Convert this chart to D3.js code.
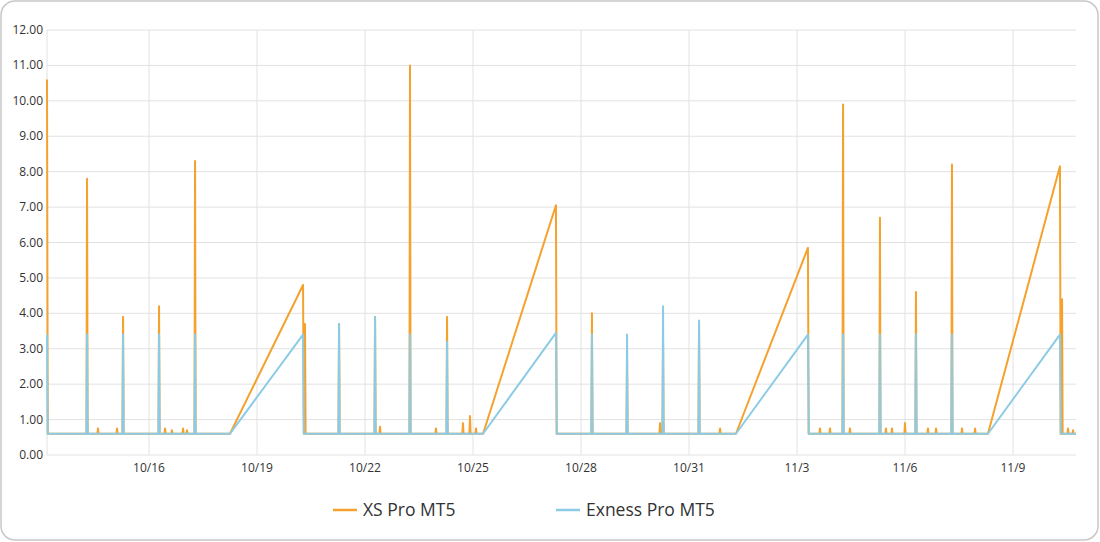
<!DOCTYPE html>
<html><head><meta charset="utf-8">
<script src="https://cdn.jsdelivr.net/npm/d3@7"></script>
<style>body{margin:0;background:#fff;font-family:"Open Sans","Noto Sans",sans-serif;}</style>
</head><body><svg id="c" width="1100" height="542"></svg>
<script>
// hours since 10/13 00:00
const spikeHour = [30.7, 38, 50.7, 54.7, 78.7, 82.7, 87.3, 94.7, 97.3, 102.7, 176, 198.7, 222.7, 226, 246, 263.3, 270.7, 281.3, 286, 290,
  367.3, 390.7, 412.7, 414.7, 438.7, 452.7, 519.3, 526, 534.7, 539.3, 559.3, 563.3, 567.3, 576, 583.3, 591.3, 596.7, 607.3, 614, 622.7,
  680.7, 684.7, 688];
const xsPeak = [7.8, 0.75, 0.75, 3.9, 4.2, 0.75, 0.7, 0.75, 0.7, 8.3, 3.7, 3.7, 3.9, 0.8, 11.0, 0.75, 3.9, 0.9, 1.1, 0.75,
  4.0, 2.7, 0.9, 3.2, 3.7, 0.75, 0.75, 0.75, 9.9, 0.75, 6.7, 0.75, 0.75, 0.9, 4.6, 0.75, 0.75, 8.2, 0.75, 0.75,
  4.4, 0.75, 0.7];
const exPeak = [3.4, 0.6, 0.6, 3.4, 3.4, 0.6, 0.6, 0.6, 0.6, 3.4, 0.6, 3.7, 3.9, 0.6, 3.4, 0.6, 3.2, 0.6, 0.6, 0.6,
  3.4, 3.4, 0.6, 4.2, 3.8, 0.6, 0.6, 0.6, 3.4, 0.6, 3.4, 0.6, 0.6, 0.6, 3.4, 0.6, 0.6, 3.4, 0.6, 0.6,
  0.6, 0.6, 0.6];
const weekendStart = [126, 294.7, 463.3, 631.3];
const weekendEnd = [174.7, 343.3, 511.3, 679.3];
const xsMonday = [4.8, 7.05, 5.85, 8.15];
const exMonday = [3.4, 3.45, 3.4, 3.4];
const firstHour = 4, lastHour = 690, baseSpread = 0.6;
const xsOpen = 10.6, exOpen = 3.4;
const tickLabels = ["10/16","10/19","10/22","10/25","10/28","10/31","11/3","11/6","11/9"];
const tickHours = [72,144,216,288,360,432,504,576,648];

function build(peaks, open, monday) {
  const pts = [[firstHour, open], [firstHour + 0.5, baseSpread]];
  spikeHour.forEach((h, i) => pts.push([h - 0.4, baseSpread], [h, peaks[i]], [h + 0.4, baseSpread]));
  weekendStart.forEach((h, i) => pts.push([h, baseSpread], [weekendEnd[i], monday[i]], [weekendEnd[i] + 0.5, baseSpread]));
  pts.push([lastHour, baseSpread]);
  return pts.sort((a, b) => a[0] - b[0]);
}
const series = [
  {name: "XS Pro MT5", color: "#f5a12e", pts: build(xsPeak, xsOpen, xsMonday)},
  {name: "Exness Pro MT5", color: "#8ccbe6", pts: build(exPeak, exOpen, exMonday)}
];

const svg = d3.select("#c");
svg.append("rect").attr("x", 1).attr("y", 1).attr("width", 1097).attr("height", 539)
   .attr("rx", 14).attr("fill", "#fff").attr("stroke", "#c8c8c8").attr("stroke-width", 1.5);
const L = 47, R = 1076, T = 30, B = 455;
const x = d3.scaleLinear().domain([firstHour, lastHour]).range([L, R]);
const y = d3.scaleLinear().domain([0, 12]).range([B, T]);
const g = svg.append("g");
g.selectAll(".hg").data(d3.range(0, 13)).join("line")
  .attr("x1", L).attr("x2", R).attr("y1", d => y(d)).attr("y2", d => y(d))
  .attr("stroke", "#e2e2e2");
g.selectAll(".vg").data(tickHours).join("line")
  .attr("x1", d => x(d)).attr("x2", d => x(d)).attr("y1", T).attr("y2", B)
  .attr("stroke", "#e2e2e2");
g.append("line").attr("x1", L).attr("x2", L).attr("y1", T).attr("y2", B).attr("stroke", "#e2e2e2");
g.selectAll(".yl").data(d3.range(0, 13)).join("text")
  .attr("x", L - 4).attr("y", d => y(d) + 4).attr("text-anchor", "end")
  .attr("font-size", 12).attr("fill", "#333").text(d => d.toFixed(2));
g.selectAll(".xl").data(tickHours).join("text")
  .attr("x", d => x(d)).attr("y", 472).attr("text-anchor", "middle")
  .attr("font-size", 12).attr("fill", "#333").text((d, i) => tickLabels[i]);

const line = d3.line().x(d => x(d[0])).y(d => y(d[1]));
series.forEach(s => {
  svg.append("path").attr("d", line(s.pts)).attr("fill", "none")
    .attr("stroke", s.color).attr("stroke-width", 2).attr("stroke-linejoin", "round");
});
const lx = [333, 556];
series.forEach((s, i) => {
  svg.append("line").attr("x1", lx[i]).attr("x2", lx[i] + 24).attr("y1", 510).attr("y2", 510)
    .attr("stroke", s.color).attr("stroke-width", 2.5);
  svg.append("text").attr("x", lx[i] + 30).attr("y", 516).attr("font-size", 17.5)
    .attr("fill", "#333").text(s.name);
});
</script></body></html>
